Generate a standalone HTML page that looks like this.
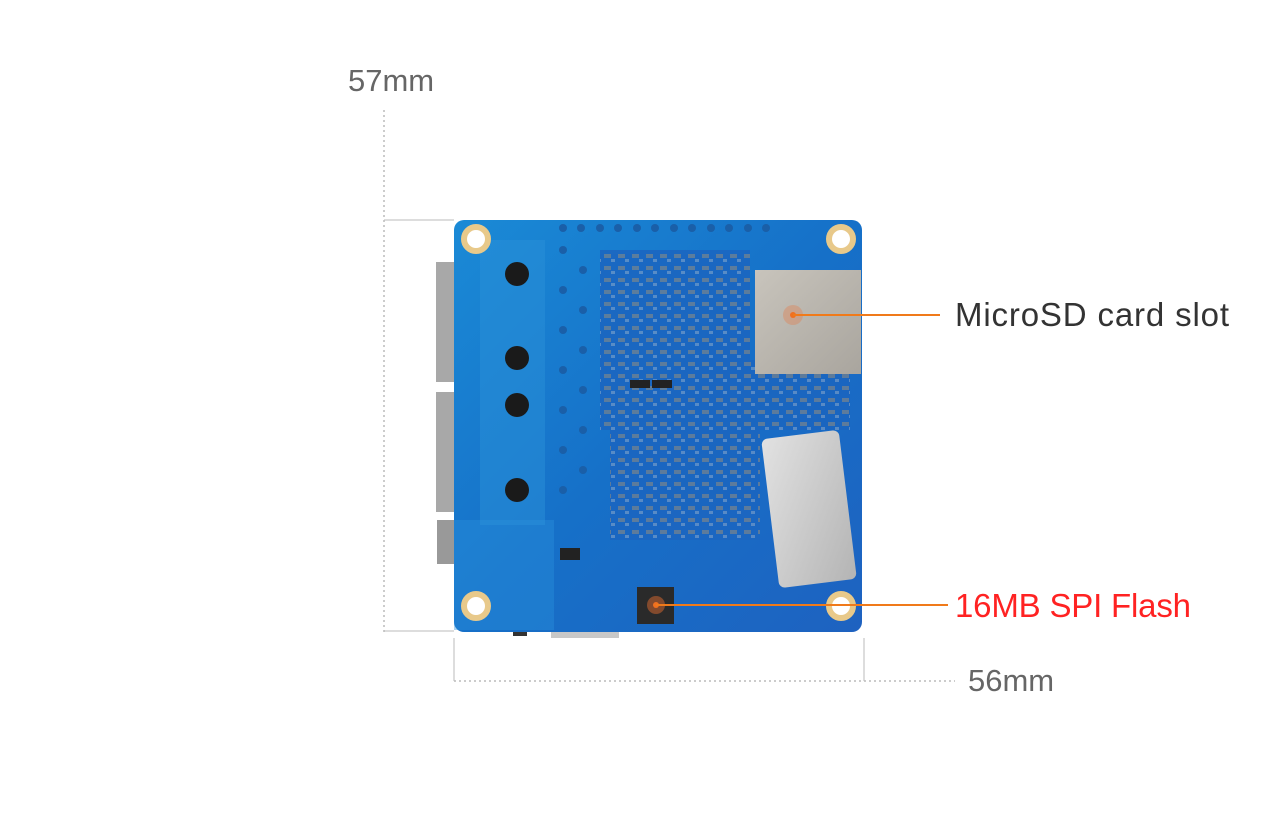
<!DOCTYPE html>
<html><head><meta charset="utf-8"><style>
html,body{margin:0;padding:0;background:#fff;}
svg{display:block}
text{font-family:"Liberation Sans",sans-serif}
</style></head><body>
<svg width="1282" height="835" viewBox="0 0 1282 835" xmlns="http://www.w3.org/2000/svg">
<defs>
<linearGradient id="b" x1="0" y1="0" x2="1" y2="1">
<stop offset="0" stop-color="#1a8ad6"/><stop offset="0.5" stop-color="#1670c8"/><stop offset="1" stop-color="#1e62c0"/>
</linearGradient>
<linearGradient id="sd" x1="0" y1="0" x2="1" y2="1"><stop offset="0" stop-color="#c8c4bc"/><stop offset="1" stop-color="#a9a59e"/></linearGradient>
<linearGradient id="lab" x1="0" y1="0" x2="1" y2="1"><stop offset="0" stop-color="#e2e2e2"/><stop offset="1" stop-color="#b4b4b4"/></linearGradient>
<pattern id="comp" width="14" height="12" patternUnits="userSpaceOnUse">
<rect width="14" height="12" fill="#1b65c0"/>
<rect x="2" y="2" width="7" height="4" fill="#9c9078" opacity="0.6"/>
<rect x="9" y="7" width="4" height="3" fill="#d0d0d0" opacity="0.4"/>
</pattern>
</defs>
<line x1="384" y1="110" x2="384" y2="632" stroke="#bbb" stroke-width="1.5" stroke-dasharray="2,3"/>
<line x1="384" y1="220" x2="454" y2="220" stroke="#bbb" stroke-width="1"/>
<line x1="384" y1="631" x2="454" y2="631" stroke="#bbb" stroke-width="1"/>
<line x1="454" y1="638" x2="454" y2="681" stroke="#bbb" stroke-width="1"/>
<line x1="864" y1="638" x2="864" y2="681" stroke="#bbb" stroke-width="1"/>
<line x1="454" y1="681" x2="955" y2="681" stroke="#bbb" stroke-width="1.5" stroke-dasharray="2,3"/>
<text x="348" y="91" font-size="31" fill="#666">57mm</text>
<text x="968" y="691" font-size="31" fill="#666">56mm</text>
<rect x="436" y="262" width="20" height="120" fill="#a8a8a8"/>
<rect x="436" y="392" width="20" height="120" fill="#a8a8a8"/>
<rect x="437" y="520" width="18" height="44" fill="#999"/>
<rect x="551" y="628" width="68" height="10" fill="#c8c8c8"/>
<rect x="513" y="628" width="14" height="8" fill="#333"/>
<rect x="454" y="220" width="408" height="412" rx="10" fill="url(#b)"/>
<rect x="480" y="240" width="65" height="285" fill="#2a8fd8" opacity="0.5"/>
<rect x="454" y="520" width="100" height="110" fill="#2b92dc" opacity="0.4"/>
<g fill="#1a5fa8">
<circle cx="563" cy="228" r="4"/><circle cx="581" cy="228" r="4"/><circle cx="600" cy="228" r="4"/><circle cx="618" cy="228" r="4"/><circle cx="637" cy="228" r="4"/><circle cx="655" cy="228" r="4"/><circle cx="674" cy="228" r="4"/><circle cx="692" cy="228" r="4"/><circle cx="711" cy="228" r="4"/><circle cx="729" cy="228" r="4"/><circle cx="748" cy="228" r="4"/><circle cx="766" cy="228" r="4"/>
</g>
<g fill="#1a5fa8"><circle cx="563" cy="250" r="4"/><circle cx="563" cy="290" r="4"/><circle cx="563" cy="330" r="4"/><circle cx="563" cy="370" r="4"/><circle cx="563" cy="410" r="4"/><circle cx="563" cy="450" r="4"/><circle cx="563" cy="490" r="4"/>
<circle cx="583" cy="270" r="4"/><circle cx="583" cy="310" r="4"/><circle cx="583" cy="350" r="4"/><circle cx="583" cy="390" r="4"/><circle cx="583" cy="430" r="4"/><circle cx="583" cy="470" r="4"/></g>
<g fill="#fff" stroke="#e8c98a" stroke-width="6">
<circle cx="476" cy="239" r="12"/><circle cx="841" cy="239" r="12"/><circle cx="476" cy="606" r="12"/><circle cx="841" cy="606" r="12"/>
</g>
<g fill="#1a1a1a"><circle cx="517" cy="274" r="12"/><circle cx="517" cy="358" r="12"/><circle cx="517" cy="405" r="12"/><circle cx="517" cy="490" r="12"/></g>
<g opacity="0.85">
<rect x="600" y="250" width="150" height="110" fill="url(#comp)"/>
<rect x="600" y="360" width="170" height="70" fill="url(#comp)"/>
<rect x="610" y="430" width="150" height="110" fill="url(#comp)"/>
<rect x="700" y="360" width="150" height="70" fill="url(#comp)"/>
</g>
<rect x="630" y="380" width="20" height="8" fill="#222"/><rect x="652" y="380" width="20" height="8" fill="#222"/>
<rect x="560" y="548" width="20" height="12" fill="#222"/>
<rect x="755" y="270" width="106" height="104" fill="url(#sd)"/>
<circle cx="793" cy="315" r="10" fill="#e08050" opacity="0.4"/><circle cx="793" cy="315" r="3" fill="#f07020"/>
<rect x="770" y="434" width="78" height="150" rx="6" fill="url(#lab)" transform="rotate(-7 809 509)"/>
<rect x="637" y="587" width="37" height="37" fill="#2a2a2a"/>
<circle cx="656" cy="605" r="9" fill="#c06030" opacity="0.6"/><circle cx="656" cy="605" r="3" fill="#f07020"/>
<line x1="793" y1="315" x2="940" y2="315" stroke="#f07a1a" stroke-width="2"/>
<line x1="656" y1="605" x2="948" y2="605" stroke="#f07a1a" stroke-width="2"/>
<text x="955" y="326" font-size="33" fill="#333" textLength="274">MicroSD card slot</text>
<text x="955" y="617" font-size="33" fill="#f22" textLength="236">16MB SPI Flash</text>
</svg>
</body></html>
